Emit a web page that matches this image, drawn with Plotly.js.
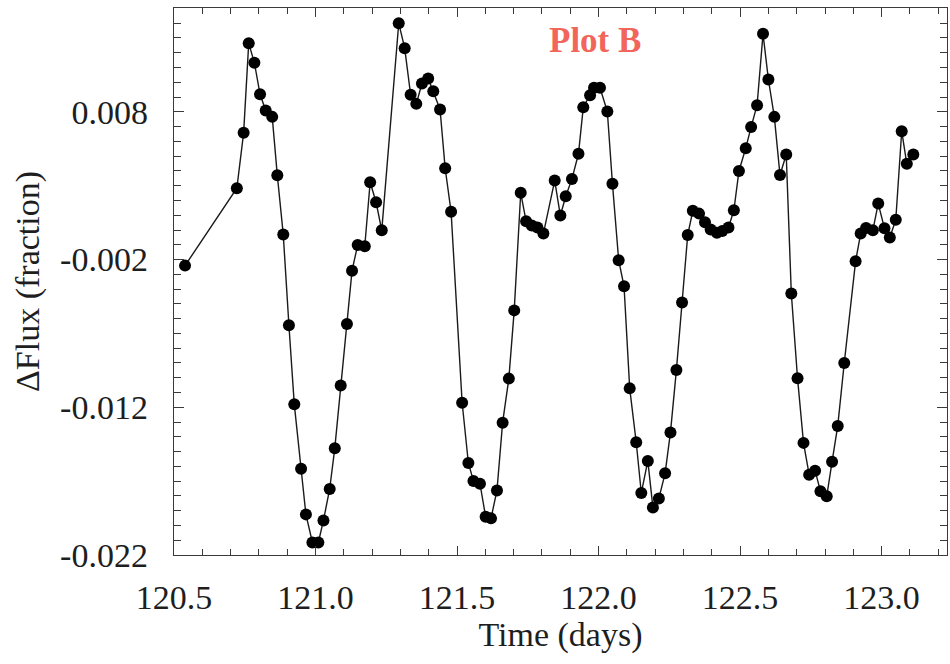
<!DOCTYPE html>
<html>
<head>
<meta charset="utf-8">
<script src="https://cdn.plot.ly/plotly-3.0.1.min.js"></script>
<style>html,body{margin:0;padding:0;background:#fff;}#chart{width:950px;height:664px;}</style>
</head>
<body>
<div id="chart"></div>
<script>
// Time (days)
var timeDays = [
  120.539, 120.722, 120.746, 120.764, 120.784, 120.804, 120.824, 120.847, 120.865, 120.886,
  120.906, 120.925, 120.949, 120.966, 120.989, 121.010, 121.028, 121.050, 121.068, 121.089,
  121.111, 121.129, 121.149, 121.174, 121.193, 121.214, 121.234, 121.294, 121.315, 121.336,
  121.356, 121.376, 121.398, 121.416, 121.440, 121.458, 121.479, 121.518, 121.540, 121.558,
  121.581, 121.601, 121.620, 121.641, 121.661, 121.683, 121.702, 121.725, 121.744, 121.764,
  121.784, 121.805, 121.845, 121.865, 121.884, 121.906, 121.929, 121.946, 121.970, 121.984,
  122.005, 122.031, 122.049, 122.071, 122.090, 122.110, 122.133, 122.151, 122.174, 122.192,
  122.213, 122.235, 122.254, 122.275, 122.295, 122.315, 122.333, 122.355, 122.376, 122.396,
  122.418, 122.437, 122.459, 122.478, 122.496, 122.520, 122.539, 122.560, 122.581, 122.600,
  122.621, 122.641, 122.663, 122.681, 122.703, 122.724, 122.744, 122.765, 122.784, 122.806,
  122.825, 122.845, 122.868, 122.908, 122.926, 122.945, 122.969, 122.988, 123.010, 123.029,
  123.050, 123.071, 123.089, 123.112
];
// ΔFlux (fraction)
var deltaFlux = [
  -0.00241, 0.00283, 0.00658, 0.01265, 0.01132, 0.00919, 0.00809, 0.00766, 0.00371, -0.00031,
  -0.00645, -0.01180, -0.01616, -0.01925, -0.02115, -0.02115, -0.01966, -0.01753, -0.01478, -0.01053,
  -0.00636, -0.00275, -0.00101, -0.00110, 0.00323, 0.00188, -0.00002, 0.01400, 0.01231, 0.00915,
  0.00854, 0.00992, 0.01026, 0.00940, 0.00816, 0.00418, 0.00123, -0.01169, -0.01577, -0.01699,
  -0.01717, -0.01941, -0.01952, -0.01763, -0.01304, -0.01006, -0.00544, 0.00252, 0.00059, 0.00030,
  0.00017, -0.00024, 0.00335, 0.00098, 0.00229, 0.00346, 0.00516, 0.00831, 0.00912, 0.00963,
  0.00963, 0.00802, 0.00314, -0.00204, -0.00381, -0.01072, -0.01437, -0.01780, -0.01563, -0.01878,
  -0.01817, -0.01647, -0.01370, -0.00947, -0.00491, -0.00033, 0.00130, 0.00111, 0.00052, 0.00003,
  -0.00019, -0.00006, 0.00017, 0.00134, 0.00400, 0.00554, 0.00698, 0.00845, 0.01328, 0.01019,
  0.00766, 0.00372, 0.00511, -0.00430, -0.01004, -0.01441, -0.01656, -0.01629, -0.01769, -0.01803,
  -0.01568, -0.01326, -0.00900, -0.00212, -0.00024, 0.00013, -0.00002, 0.00179, 0.00012, -0.00051,
  0.00069, 0.00669, 0.00448, 0.00511
];
var xTickVals = [120.5, 121.0, 121.5, 122.0, 122.5, 123.0];
var xTickText = ["120.5", "121.0", "121.5", "122.0", "122.5", "123.0"];
var yTickVals = [-0.022, -0.012, -0.002, 0.008];
var yTickText = ["-0.022", "-0.012", "-0.002", "0.008"];
var plotLabel = "Plot B";

var serif = "Liberation Serif, Times New Roman, serif";
var axisColor = "#3a3a3a";
var textColor = "#1e1e1e";
var xRange = [120.5, 123.231];
var yRange = [-0.022, 0.01503];

var trace = {
  x: timeDays,
  y: deltaFlux,
  type: "scatter",
  mode: "lines+markers",
  line: {color: "#1a1a1a", width: 1.4},
  marker: {color: "#000000", size: 12},
  hoverinfo: "x+y"
};
// helper (draws nothing) so the mirrored tick axes on top/right are rendered
var mirrorHelper = {
  x: timeDays,
  y: deltaFlux,
  xaxis: "x2",
  yaxis: "y2",
  type: "scatter",
  mode: "none",
  hoverinfo: "skip",
  showlegend: false
};

function xMinor() { return {tickmode: "linear", tick0: 120.5, dtick: 0.1, ticks: "inside", ticklen: 6, tickwidth: 1, tickcolor: axisColor, showgrid: false}; }
function yMinor() { return {tickmode: "linear", tick0: -0.022, dtick: 0.001, ticks: "inside", ticklen: 7, tickwidth: 1, tickcolor: axisColor, showgrid: false}; }

var layout = {
  width: 950,
  height: 664,
  margin: {l: 174, r: 3, t: 8, b: 109},
  paper_bgcolor: "#ffffff",
  plot_bgcolor: "#ffffff",
  showlegend: false,
  font: {family: serif, color: textColor, size: 34},
  xaxis: {
    range: xRange,
    tickmode: "array",
    tickvals: xTickVals,
    ticktext: xTickText,
    ticks: "inside",
    ticklen: 9,
    tickwidth: 1,
    tickcolor: axisColor,
    ticklabelstandoff: 12,
    showline: true,
    mirror: true,
    linecolor: axisColor,
    linewidth: 1.3,
    showgrid: false,
    zeroline: false,
    tickfont: {family: serif, size: 34, color: textColor},
    minor: xMinor(),
    title: {text: "Time (days)", font: {family: serif, size: 34, color: textColor}, standoff: 4}
  },
  xaxis2: {
    overlaying: "x",
    side: "top",
    anchor: "y2",
    range: xRange,
    tickmode: "array",
    tickvals: xTickVals,
    ticks: "inside",
    ticklen: 9,
    tickwidth: 1,
    tickcolor: axisColor,
    showticklabels: false,
    showline: false,
    showgrid: false,
    zeroline: false,
    minor: xMinor()
  },
  yaxis: {
    range: yRange,
    tickmode: "array",
    tickvals: yTickVals,
    ticktext: yTickText,
    ticks: "inside",
    ticklen: 10,
    tickwidth: 1,
    tickcolor: axisColor,
    ticklabelstandoff: 18,
    showline: true,
    mirror: true,
    linecolor: axisColor,
    linewidth: 1.3,
    showgrid: false,
    zeroline: false,
    tickfont: {family: serif, size: 34, color: textColor},
    minor: yMinor(),
    title: {text: "ΔFlux (fraction)", font: {family: serif, size: 34, color: textColor}, standoff: 10}
  },
  yaxis2: {
    overlaying: "y",
    side: "right",
    anchor: "x2",
    range: yRange,
    tickmode: "array",
    tickvals: yTickVals,
    ticks: "inside",
    ticklen: 10,
    tickwidth: 1,
    tickcolor: axisColor,
    showticklabels: false,
    showline: false,
    showgrid: false,
    zeroline: false,
    minor: yMinor()
  },
  annotations: [{
    text: "<b>" + plotLabel + "</b>",
    xref: "paper", yref: "paper",
    x: (595 - 174) / 773, y: (555 - 40) / 547,
    xanchor: "center", yanchor: "middle",
    showarrow: false,
    font: {family: serif, size: 35, color: "#f2655a"}
  }]
};

Plotly.newPlot("chart", [mirrorHelper, trace], layout, {displayModeBar: false, staticPlot: true});
</script>
</body>
</html>
